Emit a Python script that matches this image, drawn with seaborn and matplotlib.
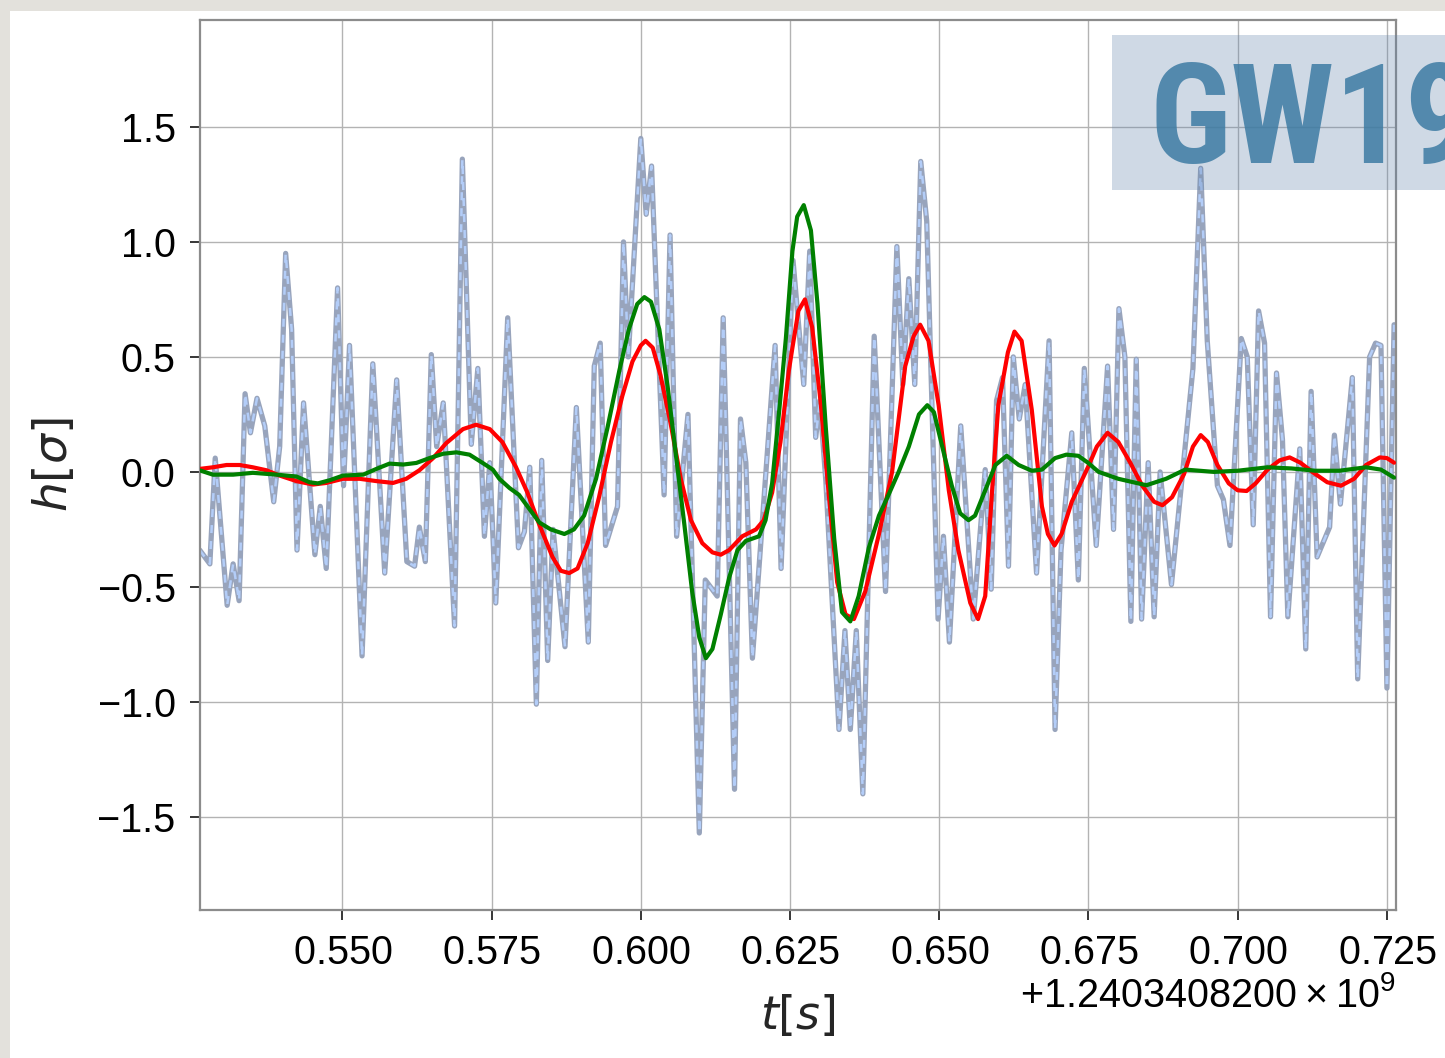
import numpy as np
import pandas as pd
import matplotlib
matplotlib.use("Agg")
import matplotlib.pyplot as plt
from matplotlib.patches import Rectangle
from matplotlib.ticker import ScalarFormatter
import seaborn as sns

# GPS reference second for the event segment
T0 = 1240340820.0

# whitened detector strain (seconds after T0, units of sigma)
strain_t = [0.5261, 0.5278, 0.5287, 0.5307, 0.5317, 0.5327, 0.5337, 0.5346, 0.5357, 0.5370,
            0.5385, 0.5395, 0.5405, 0.5415, 0.5424, 0.5435, 0.5454, 0.5463, 0.5473, 0.5492,
            0.5502, 0.5512, 0.5533, 0.5551, 0.5571, 0.5591, 0.5608, 0.5621, 0.5629, 0.5639,
            0.5649, 0.5658, 0.5669, 0.5688, 0.5701, 0.5716, 0.5727, 0.5738, 0.5747, 0.5757,
            0.5777, 0.5795, 0.5805, 0.5814, 0.5825, 0.5834, 0.5844, 0.5853, 0.5873, 0.5892,
            0.5912, 0.5922, 0.5932, 0.5941, 0.5961, 0.5971, 0.5979, 0.6000, 0.6009, 0.6018,
            0.6039, 0.6049, 0.6060, 0.6079, 0.6098, 0.6108, 0.6128, 0.6138, 0.6157, 0.6167,
            0.6176, 0.6187, 0.6225, 0.6235, 0.6255, 0.6273, 0.6283, 0.6293, 0.6300, 0.6310,
            0.6332, 0.6342, 0.6351, 0.6361, 0.6372, 0.6391, 0.6410, 0.6429, 0.6439, 0.6449,
            0.6459, 0.6469, 0.6479, 0.6498, 0.6507, 0.6517, 0.6536, 0.6557, 0.6577, 0.6587,
            0.6596, 0.6606, 0.6616, 0.6624, 0.6634, 0.6644, 0.6663, 0.6684, 0.6694, 0.6704,
            0.6722, 0.6733, 0.6743, 0.6763, 0.6782, 0.6792, 0.6801, 0.6811, 0.6821, 0.6830,
            0.6839, 0.6850, 0.6860, 0.6870, 0.6889, 0.6925, 0.6938, 0.6949, 0.6966, 0.6976,
            0.6987, 0.7006, 0.7016, 0.7026, 0.7035, 0.7045, 0.7055, 0.7065, 0.7075, 0.7084,
            0.7104, 0.7114, 0.7123, 0.7133, 0.7154, 0.7162, 0.7172, 0.7192, 0.7201, 0.7221,
            0.7231, 0.7240, 0.7250, 0.7262]
strain_h = [-0.34, -0.40, 0.06, -0.58, -0.40, -0.56, 0.34, 0.17, 0.32, 0.20,
            -0.13, 0.11, 0.95, 0.62, -0.34, 0.30, -0.36, -0.15, -0.42, 0.80,
            -0.06, 0.55, -0.80, 0.47, -0.44, 0.40, -0.39, -0.41, -0.24, -0.39,
            0.51, 0.11, 0.30, -0.67, 1.36, 0.12, 0.45, -0.28, 0.04, -0.57,
            0.67, -0.33, -0.26, 0.02, -1.01, 0.05, -0.82, -0.25, -0.76, 0.28,
            -0.74, 0.46, 0.56, -0.32, -0.15, 1.00, 0.50, 1.45, 1.12, 1.33,
            -0.10, 1.03, -0.28, 0.25, -1.57, -0.47, -0.54, 0.67, -1.38, 0.23,
            0.04, -0.81, 0.55, -0.42, 0.92, 0.38, 0.96, 0.15, 0.31, -0.04,
            -1.12, -0.69, -1.12, -0.69, -1.40, 0.59, -0.52, 0.98, 0.38, 0.84,
            0.38, 1.35, 1.09, -0.64, -0.28, -0.74, 0.20, -0.64, 0.01, -0.51,
            0.31, 0.41, -0.41, 0.50, 0.23, 0.38, -0.44, 0.57, -1.12, -0.34,
            0.17, -0.47, 0.45, -0.32, 0.46, -0.25, 0.71, 0.50, -0.65, 0.49,
            -0.64, 0.04, -0.63, 0.00, -0.49, 0.45, 1.32, 0.57, -0.06, -0.12,
            -0.32, 0.58, 0.50, -0.23, 0.70, 0.56, -0.63, 0.43, 0.14, -0.63,
            0.10, -0.77, 0.35, -0.37, -0.24, 0.16, -0.14, 0.41, -0.90, 0.50,
            0.56, 0.55, -0.94, 0.64]

# unmodelled waveform reconstruction (red)
recon_t = [0.5261, 0.5283, 0.5306, 0.5328, 0.5350, 0.5373, 0.5395, 0.5423, 0.5451, 0.5473,
           0.5501, 0.5529, 0.5557, 0.5585, 0.5607, 0.5629, 0.5652, 0.5674, 0.5702, 0.5724,
           0.5747, 0.5768, 0.5791, 0.5810, 0.5830, 0.5852, 0.5866, 0.5880, 0.5894, 0.5911,
           0.5930, 0.5950, 0.5969, 0.5986, 0.6000, 0.6008, 0.6020, 0.6033, 0.6050, 0.6067,
           0.6084, 0.6103, 0.6120, 0.6134, 0.6148, 0.6170, 0.6193, 0.6206, 0.6220, 0.6234,
           0.6248, 0.6254, 0.6264, 0.6275, 0.6287, 0.6301, 0.6315, 0.6329, 0.6343, 0.6357,
           0.6376, 0.6399, 0.6421, 0.6443, 0.6457, 0.6468, 0.6482, 0.6499, 0.6516, 0.6532,
           0.6552, 0.6565, 0.6577, 0.6588, 0.6599, 0.6615, 0.6626, 0.6638, 0.6655, 0.6672,
           0.6682, 0.6693, 0.6705, 0.6722, 0.6749, 0.6764, 0.6782, 0.6800, 0.6820, 0.6840,
           0.6860, 0.6874, 0.6890, 0.6910, 0.6925, 0.6938, 0.6950, 0.6966, 0.6985, 0.7000,
           0.7015, 0.7030, 0.7050, 0.7070, 0.7087, 0.7105, 0.7125, 0.7150, 0.7173, 0.7195,
           0.7215, 0.7238, 0.7250, 0.7262]
recon_h = [0.013, 0.02, 0.03, 0.03, 0.02, 0.007, -0.016, -0.04, -0.055, -0.048,
           -0.03, -0.03, -0.04, -0.048, -0.03, 0.007, 0.06, 0.125, 0.186, 0.205,
           0.186, 0.13, 0.02, -0.09, -0.23, -0.37, -0.43, -0.44, -0.42, -0.31,
           -0.11, 0.13, 0.33, 0.48, 0.55, 0.57, 0.54, 0.42, 0.21, -0.03,
           -0.21, -0.31, -0.35, -0.36, -0.34, -0.28, -0.25, -0.21, -0.09, 0.13,
           0.44, 0.54, 0.70, 0.75, 0.63, 0.31, -0.10, -0.48, -0.62, -0.64,
           -0.52, -0.27, 0.00, 0.46, 0.59, 0.64, 0.57, 0.29, -0.08, -0.34,
           -0.57, -0.64, -0.54, -0.10, 0.29, 0.52, 0.61, 0.57, 0.27, -0.15,
           -0.27, -0.32, -0.27, -0.13, 0.02, 0.11, 0.17, 0.13, 0.04, -0.06,
           -0.13, -0.145, -0.11, -0.01, 0.11, 0.16, 0.13, 0.03, -0.05, -0.08,
           -0.083, -0.05, 0.01, 0.05, 0.063, 0.04, 0.00, -0.045, -0.06, -0.03,
           0.03, 0.063, 0.06, 0.04]

# compact-binary template waveform (green)
model_t = [0.5261, 0.5283, 0.5317, 0.5350, 0.5390, 0.5423, 0.5445, 0.5459, 0.5479, 0.5501,
           0.5535, 0.5557, 0.5579, 0.5602, 0.5624, 0.5646, 0.5669, 0.5691, 0.5713, 0.5735,
           0.5752, 0.5763, 0.5780, 0.5796, 0.5813, 0.5830, 0.5849, 0.5872, 0.5888, 0.5905,
           0.5925, 0.5944, 0.5964, 0.5980, 0.5994, 0.6006, 0.6017, 0.6031, 0.6045, 0.6059,
           0.6073, 0.6086, 0.6098, 0.6109, 0.6120, 0.6134, 0.6148, 0.6162, 0.6176, 0.6198,
           0.6209, 0.6220, 0.6232, 0.6243, 0.6254, 0.6262, 0.6273, 0.6285, 0.6296, 0.6310,
           0.6324, 0.6337, 0.6351, 0.6365, 0.6382, 0.6399, 0.6415, 0.6432, 0.6449, 0.6466,
           0.6480, 0.6491, 0.6505, 0.6521, 0.6535, 0.6549, 0.6560, 0.6577, 0.6594, 0.6613,
           0.6633, 0.6655, 0.6672, 0.6694, 0.6713, 0.6733, 0.6749, 0.6767, 0.6800, 0.6847,
           0.6880, 0.6912, 0.6960, 0.7000, 0.7050, 0.7090, 0.7130, 0.7170, 0.7215, 0.7240,
           0.7262]
model_h = [0.007, -0.012, -0.012, -0.004, -0.012, -0.02, -0.045, -0.05, -0.036, -0.016,
           -0.012, 0.013, 0.036, 0.032, 0.039, 0.06, 0.079, 0.085, 0.075, 0.039,
           0.01, -0.03, -0.07, -0.10, -0.16, -0.22, -0.25, -0.27, -0.25, -0.19,
           -0.03, 0.19, 0.44, 0.62, 0.73, 0.76, 0.74, 0.62, 0.37, 0.07,
           -0.23, -0.52, -0.72, -0.81, -0.77, -0.62, -0.46, -0.34, -0.30, -0.28,
           -0.21, -0.05, 0.27, 0.58, 0.96, 1.11, 1.16, 1.05, 0.73, 0.19,
           -0.29, -0.61, -0.65, -0.54, -0.33, -0.19, -0.10, 0.00, 0.11, 0.25,
           0.29, 0.26, 0.11, -0.06, -0.18, -0.21, -0.19, -0.08, 0.03, 0.07,
           0.03, 0.005, 0.01, 0.06, 0.075, 0.07, 0.04, 0.00, -0.03, -0.058,
           -0.03, 0.01, 0.00, 0.005, 0.02, 0.015, 0.005, 0.005, 0.02, 0.01,
           -0.025]

event_label = "GW190521"


class GPSFormatter(ScalarFormatter):
    """Scalar formatter that writes the GPS offset with full precision."""

    def get_offset(self):
        if not self.offset:
            return ""
        e = int(np.floor(np.log10(abs(self.offset))))
        s = self.offset / 10 ** e
        sign = "+" if self.offset > 0 else "-"
        return r"$\mathdefault{%s%1.10f\times10^{%d}}$" % (sign, abs(s), e)


sns.set_theme(style="whitegrid")
plt.rcParams["font.family"] = ["Liberation Sans", "DejaVu Sans"]
plt.rcParams["mathtext.fontset"] = "dejavusans"
plt.rcParams["axes.unicode_minus"] = True

W, H = 1445, 1058
fig = plt.figure(figsize=(W / 100, H / 100), dpi=100, facecolor="#e3e1dc")
# white sheet behind the plot
fig.patches.append(Rectangle((10 / W, 0), 1 - 10 / W, 1 - 11 / H,
                             transform=fig.transFigure, facecolor="white",
                             edgecolor="none", zorder=-5))

ax = fig.add_axes([200 / W, 1 - 910 / H, 1196 / W, 890 / H], zorder=1)
ax.set_facecolor("white")

strain = pd.DataFrame({"t": T0 + np.array(strain_t), "h": strain_h})
recon = pd.DataFrame({"t": T0 + np.array(recon_t), "h": recon_h})
model = pd.DataFrame({"t": T0 + np.array(model_t), "h": model_h})

sns.lineplot(data=strain, x="t", y="h", ax=ax, color="#98a4bc", lw=3.8,
             estimator=None, sort=False, zorder=2)
sns.lineplot(data=strain, x="t", y="h", ax=ax, color="#b3cdf8", lw=1.8,
             linestyle=(0, (3.2, 3.2)), estimator=None, sort=False, zorder=2.1)
sns.lineplot(data=recon, x="t", y="h", ax=ax, color="#ff0000", lw=3.0,
             estimator=None, sort=False, zorder=3)
sns.lineplot(data=model, x="t", y="h", ax=ax, color="#008000", lw=3.0,
             estimator=None, sort=False, zorder=3.1)

ax.set_xlim(T0 + 0.52615, T0 + 0.72652)
ax.set_ylim(-1.905, 1.965)
ax.set_yticks([-1.5, -1.0, -0.5, 0.0, 0.5, 1.0, 1.5])
ax.set_xticks(T0 + np.array([0.550, 0.575, 0.600, 0.625, 0.650, 0.675, 0.700, 0.725]))
ax.xaxis.set_major_formatter(GPSFormatter(useOffset=True, useMathText=True))

ax.grid(True, color="#b3b3b3", lw=1.0)
for s in ax.spines.values():
    s.set_color("#8c8c8c")
    s.set_linewidth(1.6)
ax.tick_params(axis="both", which="major", labelsize=28.5, colors="black",
               length=7.5, width=1.1, direction="out", pad=10,
               bottom=True, left=True, top=False, right=False)
ax.xaxis.get_offset_text().set_fontsize(28.5)

ax.set_xlabel(r"$t[s]$", fontsize=33, labelpad=15)
ax.set_ylabel(r"$h[\sigma]$", fontsize=34, labelpad=15)

# translucent event name banner laid over the top right corner
ax.add_patch(Rectangle((1112 / W, 1 - 190 / H), 1 - 1112 / W + 0.01, 155 / H,
                       transform=fig.transFigure, facecolor="#6284ac", alpha=0.3,
                       edgecolor="none", clip_on=False, zorder=6))
ax.text(1149 / W, 1 - 163 / H, event_label, transform=fig.transFigure,
        fontsize=100, fontweight="bold",
        family=["Roboto Condensed", "Barlow Semi Condensed", "Archivo Narrow",
                "Barlow Condensed", "Liberation Sans"],
        color="#3d7ba3", alpha=0.85, ha="left", va="baseline", clip_on=False, zorder=7)

fig.savefig("out.png", dpi=100, facecolor=fig.get_facecolor())
